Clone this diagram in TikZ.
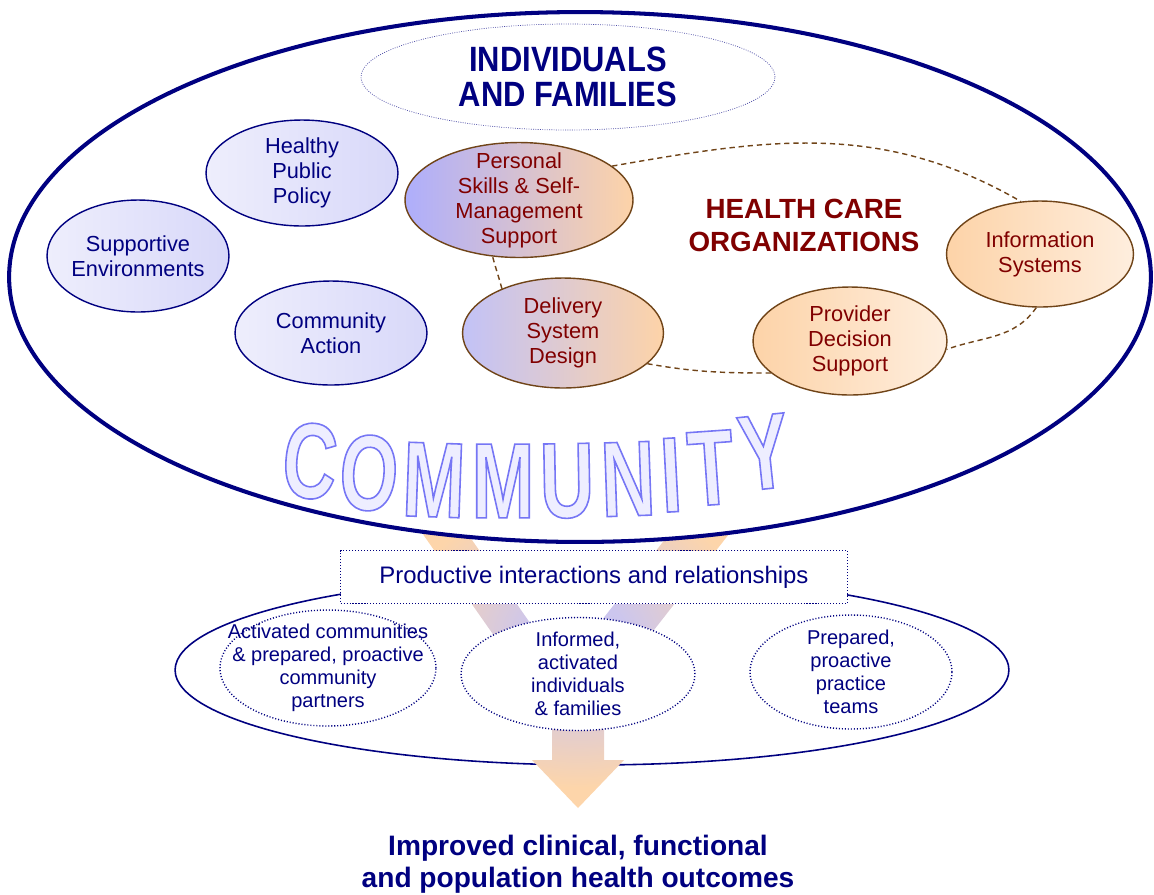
\documentclass[tikz,border=0pt]{standalone}
\usepackage{fontspec}
\setmainfont{Liberation Sans}
\newfontfamily\narrowsans[FakeStretch=0.88]{Liberation Sans}
\newfontfamily\commsans[FakeStretch=0.70]{Liberation Sans}
\usetikzlibrary{shapes.geometric,topaths}

\definecolor{navy}{RGB}{0,0,128}
\definecolor{ochre}{RGB}{112,68,24}
\definecolor{careRed}{RGB}{128,0,0}
\definecolor{policyL}{RGB}{238,238,252}
\definecolor{policyR}{RGB}{216,216,249}
\definecolor{lilac}{RGB}{174,174,252}
\definecolor{lilacPale}{RGB}{194,194,247}
\definecolor{peach}{RGB}{253,211,168}
\definecolor{peachPale}{RGB}{254,238,222}
\definecolor{glowLav}{RGB}{204,198,238}
\definecolor{glowPeach}{RGB}{253,213,170}

% hollow lettering: stroked and filled glyphs
\newcommand\hollow[1]{\special{pdf:literal direct q 2 Tr 0.9 w 0.463 0.463 0.961 RG 0.933 0.933 1 rg}#1\special{pdf:literal direct Q}}

\pgfdeclareradialshading{glow}{\pgfpoint{0bp}{0bp}}{color(0bp)=(glowLav); color(6bp)=(glowLav); color(22bp)=(glowPeach); color(50bp)=(glowPeach)}

\tikzset{
  bubble/.style={ellipse, inner xsep=-15pt, inner ysep=-10pt, align=center, font=\fontsize{12.4pt}{14.2pt}\selectfont},
  policy/.style={bubble, draw=navy, line width=0.8pt, text=navy, left color=policyL, right color=policyR},
  care/.style={bubble, draw=ochre, line width=0.8pt, text=careRed},
  outcome/.style={bubble, draw=navy, line width=0.8pt, dash pattern=on 0.6pt off 1.1pt, fill=white, text=navy, font=\fontsize{11.4pt}{13.1pt}\selectfont},
  careloop/.style={draw=ochre, line width=0.8pt, dash pattern=on 3pt off 2.2pt},
  commletter/.style={inner sep=0pt, font=\commsans\bfseries\fontsize{61pt}{61pt}\selectfont},
}

\begin{document}
\begin{tikzpicture}[x=0.02cm, y=-0.02cm]
  \useasboundingbox (0,0) rectangle (1154,894);

  % outcomes ring and merging arrow
  \node[ellipse, draw=navy, line width=0.9pt, minimum width=16.68cm, minimum height=3.8cm] (ring) at (592,670) {};
  \shade[shading=glow] (378,470) -- (423,470) -- (563,670) -- (719,470) -- (779,470) -- (604,694)
    -- (604,760) -- (624,760) -- (578,808) -- (532,760) -- (552,760) -- (552,718.6) -- cycle;

  % community
  \node[ellipse, draw=navy, line width=2.3pt, fill=white, minimum width=22.84cm, minimum height=10.6cm] (community) at (580,277) {};
  \node[ellipse, draw=navy!70, line width=0.4pt, dash pattern=on 0.5pt off 0.8pt, minimum width=8.28cm, minimum height=2.12cm,
    inner sep=0pt, text=navy, align=center, font=\narrowsans\bfseries\fontsize{20pt}{20pt}\selectfont] (people) at (568,77) {INDIVIDUALS\\AND FAMILIES};

  \node[policy, minimum width=3.84cm, minimum height=2.12cm] (hpp) at (302,173) {Healthy\\Public\\Policy};
  \node[policy, minimum width=3.64cm, minimum height=2.24cm] (env) at (138,256) {Supportive\\Environments};
  \node[policy, minimum width=3.84cm, minimum height=2.08cm] (action) at (331,333) {Community\\Action};

  \node[care, left color=lilac, right color=peach, minimum width=4.56cm, minimum height=2.3cm] (personal) at (519,200) {Personal\\Skills \& Self-\\Management\\Support};
  \node[care, left color=lilacPale, right color=peach, minimum width=4.02cm, minimum height=2.2cm] (delivery) at (563,333) {Delivery\\System\\Design};
  \node[care, left color=peach, right color=peachPale, minimum width=3.74cm, minimum height=2.12cm] (info) at (1040,254) {Information\\Systems};
  \node[care, left color=peach, right color=peachPale, minimum width=3.88cm, minimum height=2.16cm] (provider) at (850,341) {Provider\\Decision\\Support};
  \node[text=careRed, align=center, font=\bfseries\fontsize{15.8pt}{18.8pt}\selectfont] (hcorg) at (804,225) {HEALTH CARE\\ORGANIZATIONS};

  \draw[careloop] (personal.20) to[out=10, in=150] (info.110);
  \draw[careloop] (info.266) to[out=235, in=20] (provider.355);
  \draw[careloop] (provider.202) to[out=180, in=-10] (delivery.340);
  \draw[careloop] (delivery.144) to[out=105, in=-75] (personal.245);

  \foreach \ch/\px/\py/\tilt [count=\i] in {C/310/461/-5, O/369/473/-4, M/434/480/-2, M/503/481/0, U/567/481/1,
      N/628/479/2, I/671/475/3, T/711/468/4, Y/764/452/6}
    \node[commletter, rotate=\tilt] (comm\i) at (\px,\py) {\hollow{\ch}};

  % interactions and outcomes
  \node[draw=navy, line width=0.8pt, dash pattern=on 0.6pt off 1.1pt, fill=white, minimum width=10.14cm, minimum height=1.06cm,
    text=navy, font=\fontsize{13.6pt}{16pt}\selectfont] (interact) at (594,577) {Productive interactions and relationships};
  \node[outcome, minimum width=4.32cm, minimum height=2.32cm] (partners) at (328,668) {Activated communities\\\& prepared, proactive\\community\\partners};
  \node[outcome, minimum width=4.68cm, minimum height=2.26cm] (families) at (578,674) {Informed,\\activated\\individuals\\\& families};
  \node[outcome, minimum width=4.04cm, minimum height=2.28cm] (teams) at (851,672) {Prepared,\\proactive\\practice\\teams};

  \node[text=navy, align=center, font=\bfseries\fontsize{16pt}{18.2pt}\selectfont] (results) at (578,864) {Improved clinical, functional\\and population health outcomes};
\end{tikzpicture}
\end{document}
